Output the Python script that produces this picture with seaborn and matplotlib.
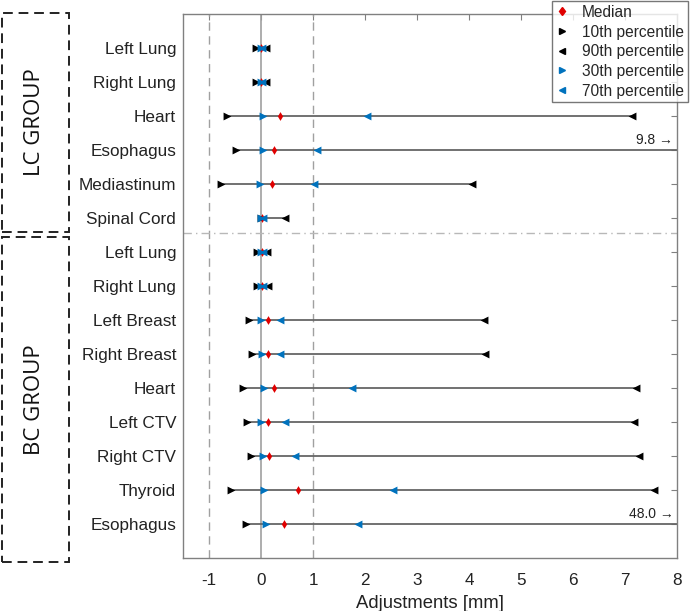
import numpy as np
import pandas as pd
import matplotlib
matplotlib.use("Agg")
import matplotlib.pyplot as plt
from matplotlib.patches import Rectangle
import seaborn as sns

# organs top to bottom (LC group first, then BC group)
organs = ["Left Lung", "Right Lung", "Heart", "Esophagus", "Mediastinum", "Spinal Cord",
          "Left Lung", "Right Lung", "Left Breast", "Right Breast", "Heart",
          "Left CTV", "Right CTV", "Thyroid", "Esophagus"]
p10 = [-0.10, -0.10, -0.65, -0.48, -0.77, 0.00, -0.08, -0.08, -0.23, -0.17, -0.35, -0.27, -0.20, -0.58, -0.28]
p30 = [0.00, 0.00, 0.04, 0.04, -0.02, 0.00, 0.00, 0.00, 0.00, 0.02, 0.05, 0.00, 0.03, 0.06, 0.10]
median = [0.00, 0.00, 0.37, 0.25, 0.21, 0.01, 0.01, 0.01, 0.13, 0.13, 0.25, 0.13, 0.15, 0.72, 0.44]
p70 = [0.02, 0.02, 2.04, 1.08, 1.02, 0.03, 0.03, 0.03, 0.37, 0.37, 1.75, 0.46, 0.65, 2.54, 1.86]
p90 = [0.10, 0.10, 7.13, 9.8, 4.06, 0.46, 0.12, 0.13, 4.29, 4.31, 7.21, 7.17, 7.27, 7.56, 48.0]

n_lc = 6
xticks = [-1, 0, 1, 2, 3, 4, 5, 6, 7, 8]

sns.set_style("white")
plt.rcParams['font.family'] = ['Liberation Sans', 'DejaVu Sans']

rows = np.arange(1, len(organs) + 1)

series = [("Median", median), ("10th percentile", p10), ("90th percentile", p90),
          ("30th percentile", p30), ("70th percentile", p70)]

colors = {"Median": "#e00000", "10th percentile": "black", "90th percentile": "black",
          "30th percentile": "#0072BD", "70th percentile": "#0072BD"}
markers = {"Median": "d", "10th percentile": ">", "90th percentile": "<",
           "30th percentile": ">", "70th percentile": "<"}
sizes = {"Median": 20, "10th percentile": 32, "90th percentile": 32,
         "30th percentile": 32, "70th percentile": 32}

fig = plt.figure(figsize=(6.93, 6.11), dpi=100)
ax = fig.add_axes([183 / 693, 1 - 558 / 611, (677 - 183) / 693, (558 - 14) / 611])

# reference lines
ax.axvline(0, color="#a0a0a0", lw=1.2, zorder=1)
ax.axvline(-1, color="#a0a0a0", lw=1.0, ls=(0, (6, 4)), zorder=1)
ax.axvline(1, color="#a0a0a0", lw=1.0, ls=(0, (6, 4)), zorder=1)
ax.axhline(n_lc + 0.45, color="#b8b8b8", lw=1.0, ls=(0, (6, 3, 1, 3)), zorder=1)

# range lines from 10th to 90th percentile
ax.hlines(rows, p10, p90, color="#666666", lw=1.3, zorder=2)

for k, (name, vals) in enumerate(series):
    d = pd.DataFrame({"value": vals, "row": rows})
    sns.scatterplot(data=d, x="value", y="row", color=colors[name], marker=markers[name],
                    s=sizes[name], linewidth=0, ax=ax, zorder=3 + k)

ax.set_xlim(-1.5, 8)
ax.set_ylim(len(organs) + 1, 0)
ax.set_xticks(xticks)
ax.set_xticklabels([str(t) for t in xticks])
ax.set_yticks(rows)
ax.set_yticklabels(organs)
ax.tick_params(axis="both", direction="in", length=4, color="#808080",
               labelsize=12.3, labelcolor="#222222", top=True, right=True)
ax.tick_params(axis="x", pad=11)
ax.tick_params(axis="y", pad=5)
for sp in ax.spines.values():
    sp.set_color("#808080")
    sp.set_linewidth(1.0)
ax.set_xlabel("Adjustments [mm]", fontsize=13.3, color="#222222", labelpad=5)
ax.set_ylabel("")

# off-axis values
for i, v in enumerate(p90):
    if v > 8:
        ax.text(7.93, rows[i] - 0.3, f"{v:.1f} \u2192", ha="right", va="center",
                fontsize=10, color="#222222")

# legend
handles = []
for name, _ in series:
    handles.append(plt.Line2D([], [], ls="none", marker=markers[name], color=colors[name],
                              markersize=4.5 if name == "Median" else 4.5))
leg = fig.legend(handles, [s[0] for s in series], loc="upper right",
                 bbox_to_anchor=(688 / 693, 1 - 1 / 611), fontsize=11.2,
                 frameon=True, fancybox=False, handlelength=0.8, handletextpad=0.9,
                 borderpad=0.25, labelspacing=0.3, borderaxespad=0)
leg.get_frame().set_edgecolor("#555555")
leg.get_frame().set_linewidth(1.0)

# group boxes
def px_rect(x0, y0, x1, y1):
    return Rectangle((x0 / 693, 1 - y1 / 611), (x1 - x0) / 693, (y1 - y0) / 611,
                     transform=fig.transFigure, fill=False, ec="#222222", lw=1.4,
                     ls=(0, (5, 3)))

fig.patches.append(px_rect(2, 13, 69, 232))
fig.patches.append(px_rect(2, 237, 69, 562))
fig.text(35 / 693, 1 - 122 / 611, "LC GROUP", rotation=90, ha="center", va="center",
         fontsize=16, family=["Open Sans", "DejaVu Sans"], color="#111111")
fig.text(35 / 693, 1 - 400 / 611, "BC GROUP", rotation=90, ha="center", va="center",
         fontsize=16, family=["Open Sans", "DejaVu Sans"], color="#111111")

fig.savefig("out.png", dpi=100)
